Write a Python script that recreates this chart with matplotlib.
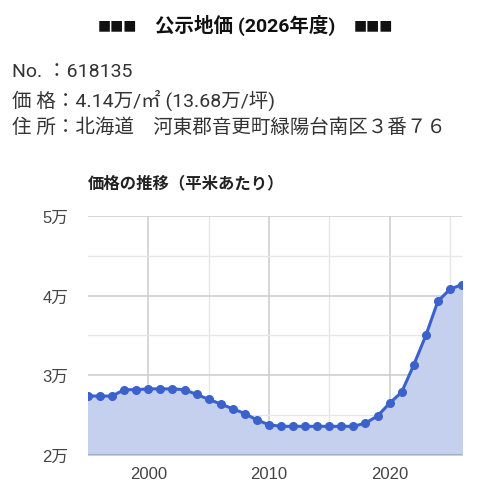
import matplotlib
matplotlib.use("Agg")
import matplotlib.pyplot as plt
from matplotlib.ticker import FixedLocator

plt.rcParams['font.family'] = ['Noto Sans CJK JP', 'DejaVu Sans']

years = list(range(1995, 2027))
prices = [2.74, 2.74, 2.74, 2.82, 2.82, 2.83, 2.83, 2.83, 2.82, 2.76,
          2.70, 2.64, 2.58, 2.52, 2.44, 2.38, 2.36, 2.36, 2.36, 2.36,
          2.36, 2.36, 2.36, 2.40, 2.49, 2.65, 2.79, 3.13, 3.50, 3.93,
          4.08, 4.14]
y_ticks = [2, 3, 4, 5]
y_labels = ["2万", "3万", "4万", "5万"]
x_ticks = [2000, 2010, 2020]

title_mark = "■■■"
title = "公示地価 (2026年度)"
info_lines = ["No. ：618135",
              "価 格：4.14万/㎡ (13.68万/坪)",
              "住 所：北海道　河東郡音更町緑陽台南区３番７６"]
subtitle = "価格の推移（平米あたり）"

W, H = 487, 502
fig = plt.figure(figsize=(W / 100, H / 100), dpi=100)

latin_cjk = ['Roboto', 'Noto Sans CJK JP']
fig.text(245 / W, 1 - 25 / H, title, ha='center', va='center', fontsize=14,
         fontweight='bold', color='#111111', family=latin_cjk)
for xc in (117, 373):
    fig.text(xc / W, 1 - 25 / H, title_mark, ha='center', va='center',
             fontsize=10, color='#111111', family=['DejaVu Sans'])
for i, line in enumerate(info_lines):
    fig.text(12 / W, 1 - (72 + 28 * i) / H, line, ha='left', va='center',
             fontsize=14, color='#333333', family=latin_cjk)
fig.text(88 / W, 1 - 183 / H, subtitle, ha='left', va='center', fontsize=11.8,
         fontweight='bold', color='#222222')

left, right = 88, 462
top, bottom = 217, 456
ax = fig.add_axes([left / W, 1 - bottom / H, (right - left) / W, (bottom - top) / H])

color = '#3b62cc'
ax.fill_between(years, prices, 2, color='#c5d0ee', zorder=1)
ax.plot(years, prices, color=color, lw=2.2, marker='o', ms=5.5, zorder=3)

ax.set_xlim(1995, 2026)
ax.set_ylim(2, 5)
ax.set_yticks(y_ticks)
ax.set_yticklabels(y_labels)
ax.set_xticks(x_ticks)
ax.xaxis.set_minor_locator(FixedLocator([2005, 2015, 2025]))
ax.yaxis.set_minor_locator(FixedLocator([2.5, 3.5, 4.5]))
ax.grid(which='major', color='#cccccc', lw=1.1, zorder=0)
ax.grid(which='minor', color='#e6e6e6', lw=1.0, zorder=0)
ax.set_axisbelow(True)
for s in ax.spines.values():
    s.set_visible(False)
ax.axhline(2, color='#9aa3c0', lw=1.2, zorder=2)
ax.tick_params(which='both', length=0)
tick_fam = ['Liberation Sans', 'Noto Sans CJK JP']
for lab in ax.get_yticklabels():
    lab.set_family(tick_fam)
    lab.set_fontsize(12)
    lab.set_color('#444444')
    lab.set_horizontalalignment('left')
for lab in ax.get_xticklabels():
    lab.set_family(tick_fam)
    lab.set_fontsize(12)
    lab.set_color('#444444')
ax.tick_params(axis='y', pad=33)
ax.tick_params(axis='x', pad=8)

fig.savefig('out.png', dpi=100)
